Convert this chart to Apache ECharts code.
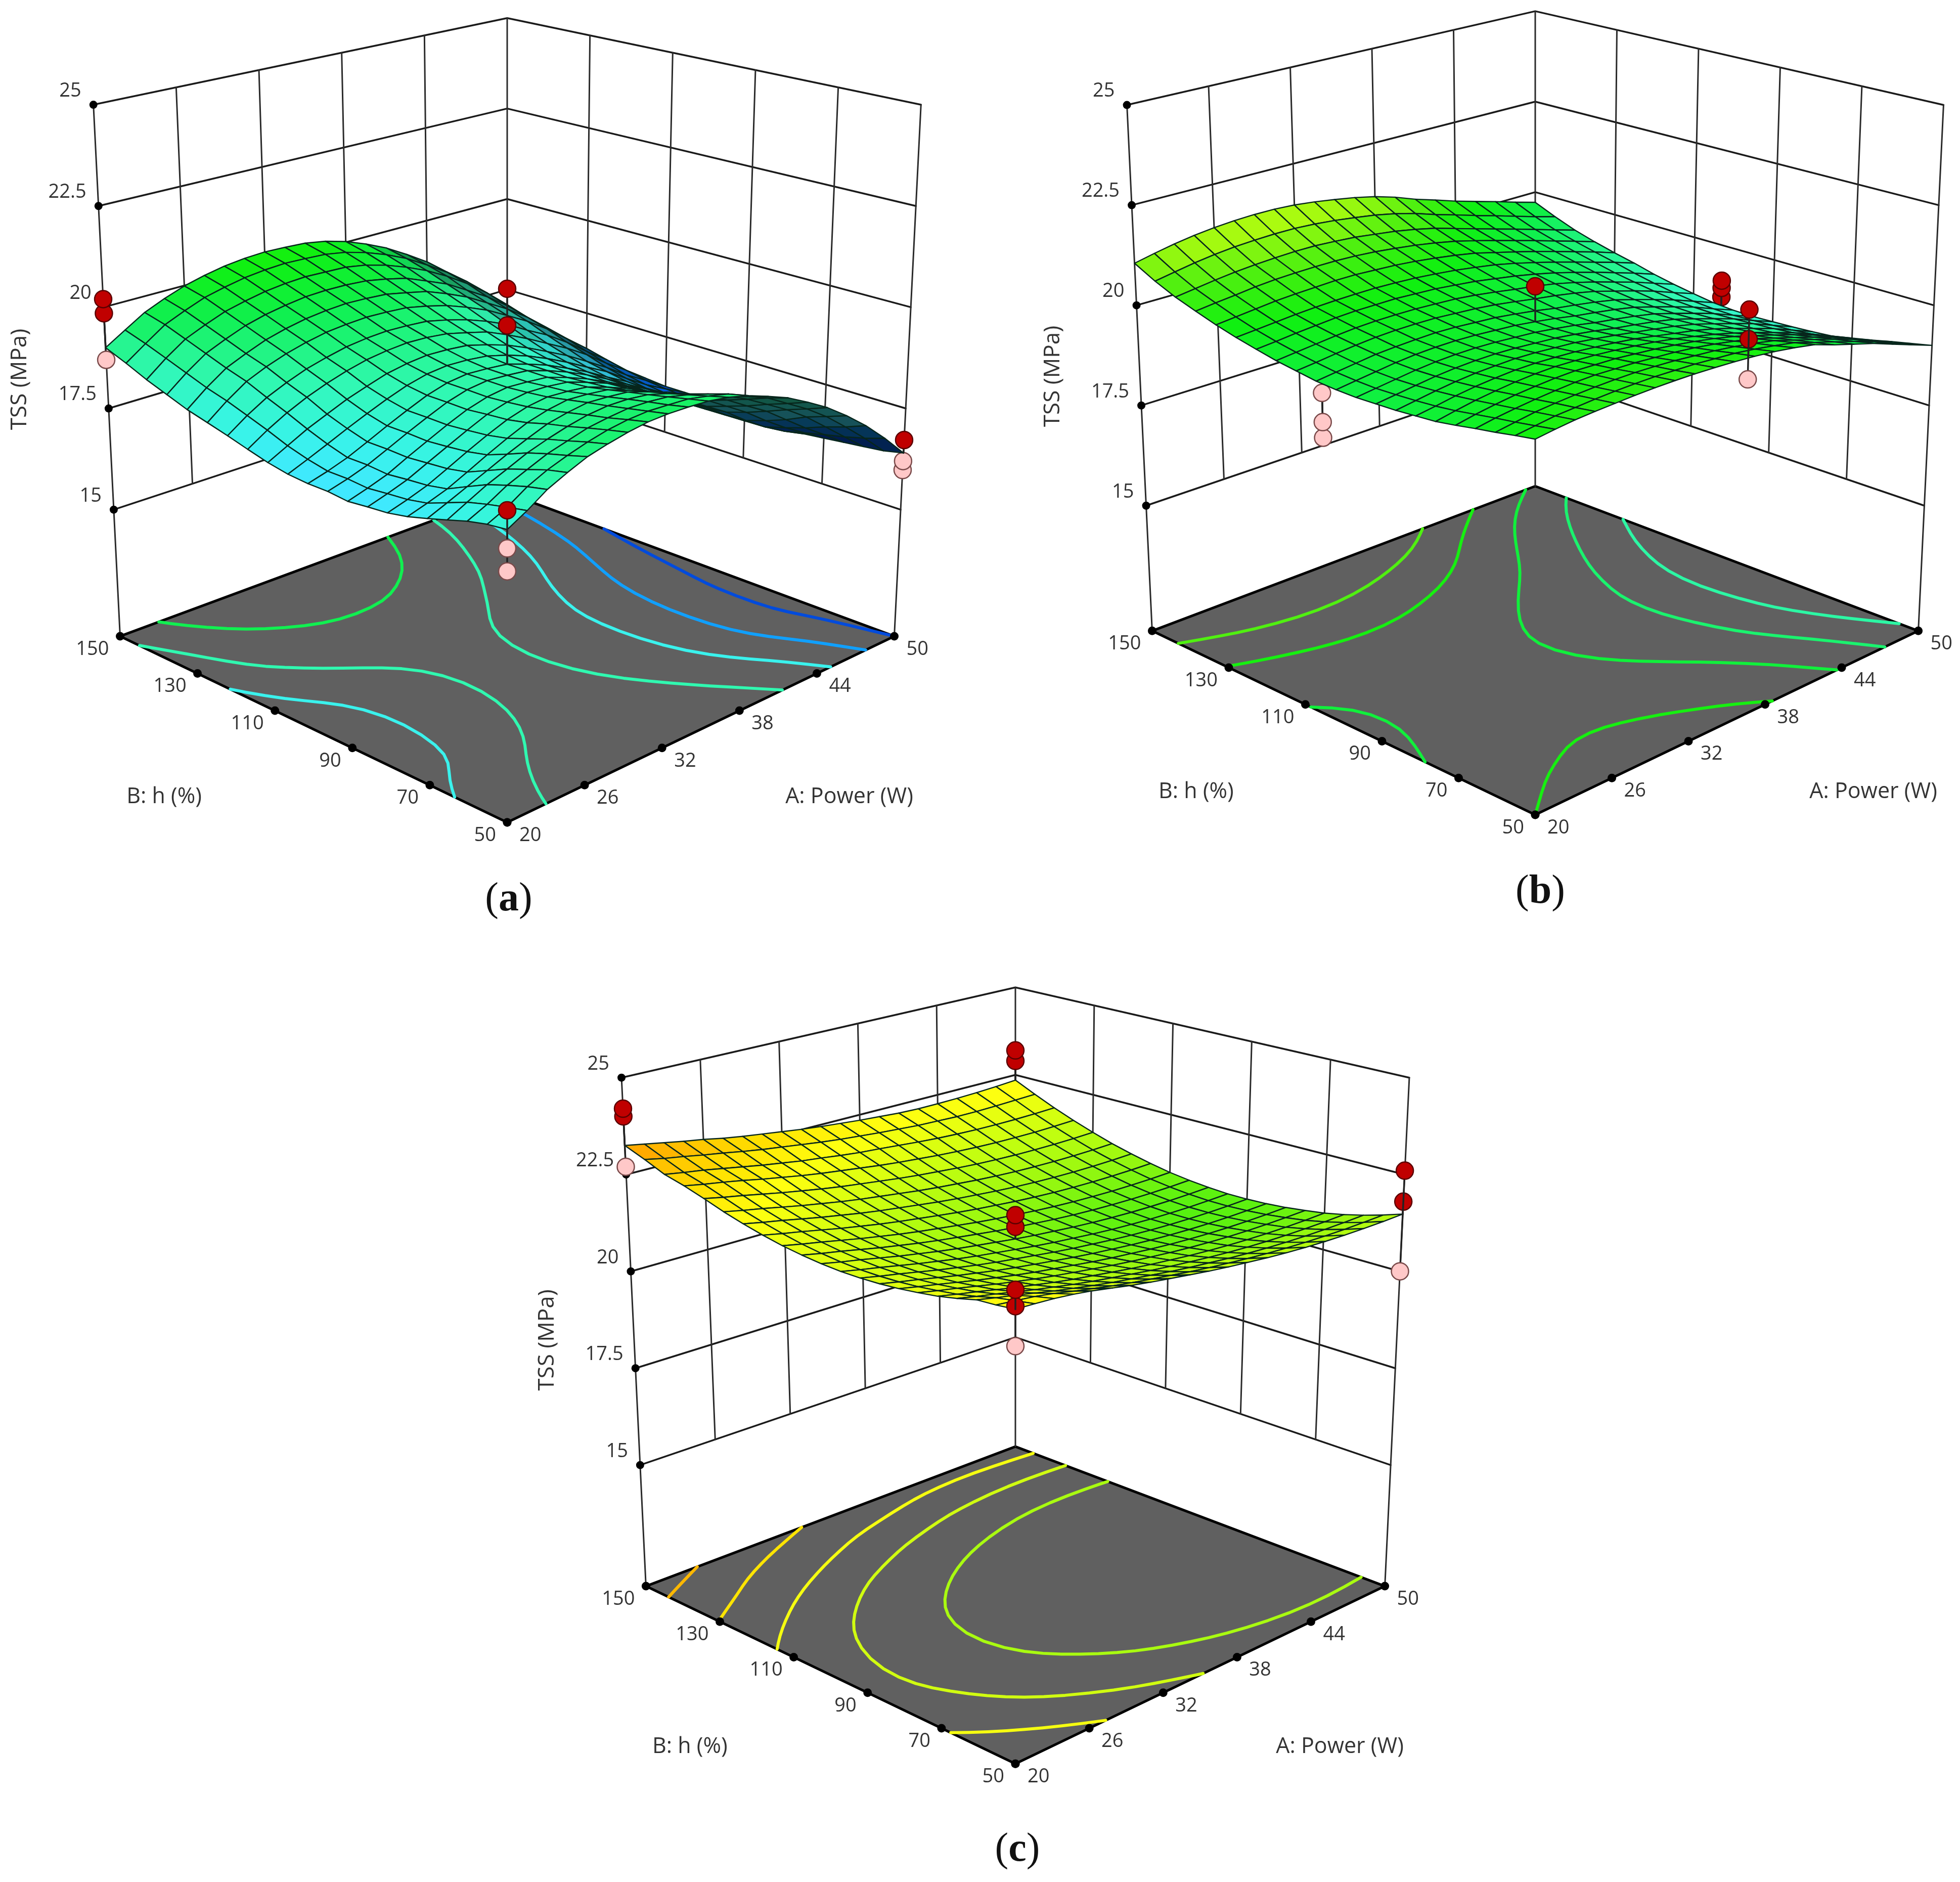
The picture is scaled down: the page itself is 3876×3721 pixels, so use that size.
<!DOCTYPE html>
<html>
<head>
<meta charset="utf-8">
<style>
	html, body { margin: 0; padding: 0; background: #fff; }
	#chart { width: 3876px; height: 3721px; }
</style>
<script src="https://cdn.jsdelivr.net/npm/echarts@6/dist/echarts.min.js"></script>
</head>
<body>
<div id="chart"></div>
<script>
var tickA = [20, 26, 32, 38, 44, 50];
var tickB = [50, 70, 90, 110, 130, 150];
var tickZ = [15, 17.5, 20, 22.5, 25];
var gridA = [20, 21.5, 23, 24.5, 26, 27.5, 29, 30.5, 32, 33.5, 35, 36.5, 38, 39.5, 41, 42.5, 44, 45.5, 47, 48.5, 50];
var gridB = [50, 55, 60, 65, 70, 75, 80, 85, 90, 95, 100, 105, 110, 115, 120, 125, 130, 135, 140, 145, 150];

// TSS, one row per gridB value, one column per gridA value
var surfaceA = [
	[18.25,18.50,18.80,19.01,19.20,19.32,19.42,19.49,19.51,19.50,19.47,19.39,19.26,19.07,18.86,18.58,18.27,17.89,17.46,16.96,16.40],
	[18.20,18.41,18.70,18.91,19.07,19.21,19.32,19.39,19.42,19.40,19.37,19.27,19.15,18.92,18.71,18.40,18.09,17.72,17.28,16.81,16.30],
	[18.10,18.31,18.57,18.76,18.95,19.08,19.21,19.28,19.33,19.32,19.27,19.15,19.00,18.78,18.53,18.23,17.92,17.56,17.13,16.69,16.25],
	[17.96,18.19,18.42,18.61,18.81,18.96,19.09,19.19,19.24,19.23,19.17,19.03,18.85,18.61,18.36,18.04,17.73,17.34,16.95,16.59,16.20],
	[17.82,18.01,18.21,18.41,18.62,18.81,18.99,19.09,19.16,19.13,19.08,18.92,18.74,18.47,18.20,17.88,17.55,17.16,16.80,16.48,16.15],
	[17.69,17.83,17.99,18.21,18.44,18.66,18.86,18.99,19.07,19.04,18.98,18.80,18.60,18.34,18.04,17.72,17.40,17.01,16.66,16.36,16.10],
	[17.60,17.74,17.90,18.12,18.35,18.57,18.77,18.91,18.98,18.95,18.89,18.72,18.52,18.27,18.00,17.67,17.36,16.99,16.65,16.36,16.10],
	[17.56,17.70,17.86,18.08,18.30,18.52,18.73,18.86,18.93,18.91,18.85,18.68,18.49,18.23,17.96,17.64,17.33,16.98,16.64,16.35,16.10],
	[17.51,17.65,17.81,18.04,18.26,18.48,18.68,18.82,18.89,18.86,18.81,18.64,18.44,18.20,17.93,17.62,17.32,16.96,16.63,16.35,16.10],
	[17.56,17.69,17.85,18.06,18.28,18.49,18.69,18.83,18.89,18.86,18.81,18.65,18.45,18.21,17.94,17.64,17.34,17.00,16.67,16.39,16.15],
	[17.56,17.69,17.85,18.06,18.28,18.49,18.69,18.83,18.89,18.86,18.81,18.65,18.46,18.22,17.96,17.66,17.37,17.02,16.71,16.44,16.20],
	[17.60,17.79,17.99,18.20,18.40,18.59,18.76,18.88,18.93,18.91,18.85,18.71,18.53,18.30,18.04,17.75,17.46,17.11,16.77,16.48,16.20],
	[17.69,17.93,18.17,18.37,18.57,18.73,18.88,18.97,19.02,19.00,18.95,18.81,18.64,18.41,18.15,17.88,17.56,17.23,16.86,16.54,16.20],
	[17.82,18.12,18.38,18.60,18.78,18.93,19.05,19.12,19.16,19.14,19.08,18.95,18.81,18.58,18.32,18.03,17.74,17.40,17.00,16.64,16.25],
	[17.96,18.29,18.57,18.78,18.96,19.09,19.20,19.26,19.29,19.27,19.23,19.11,18.96,18.76,18.52,18.21,17.92,17.56,17.15,16.76,16.30],
	[18.09,18.46,18.78,18.99,19.16,19.29,19.39,19.44,19.47,19.45,19.41,19.30,19.16,18.96,18.73,18.43,18.12,17.75,17.32,16.89,16.40],
	[18.22,18.60,18.93,19.14,19.33,19.46,19.56,19.62,19.65,19.63,19.59,19.48,19.36,19.15,18.91,18.60,18.28,17.90,17.45,16.99,16.45],
	[18.40,18.78,19.11,19.32,19.51,19.64,19.73,19.80,19.82,19.81,19.77,19.67,19.54,19.32,19.09,18.77,18.44,18.04,17.57,17.08,16.50],
	[18.58,18.96,19.29,19.50,19.69,19.81,19.91,19.97,20.00,19.98,19.96,19.87,19.72,19.52,19.28,18.98,18.63,18.22,17.74,17.20,16.60],
	[18.80,19.14,19.47,19.68,19.87,19.99,20.09,20.15,20.18,20.16,20.13,20.04,19.89,19.69,19.44,19.12,18.77,18.36,17.86,17.30,16.70],
	[19.00,19.30,19.60,19.81,19.99,20.12,20.22,20.28,20.31,20.29,20.26,20.17,20.02,19.81,19.56,19.24,18.89,18.46,17.96,17.40,16.80]
];
var surfaceB = [
	[20.25,20.31,20.36,20.39,20.41,20.43,20.44,20.44,20.43,20.41,20.38,20.34,20.28,20.20,20.10,19.92,19.76,19.60,19.40,19.20,19.00],
	[20.17,20.23,20.29,20.32,20.35,20.37,20.38,20.38,20.36,20.34,20.30,20.26,20.19,20.10,20.00,19.83,19.67,19.50,19.31,19.10,18.90],
	[20.08,20.15,20.22,20.26,20.29,20.31,20.32,20.32,20.30,20.27,20.22,20.17,20.10,20.01,19.90,19.74,19.58,19.41,19.22,19.01,18.80],
	[20.00,20.08,20.14,20.19,20.23,20.26,20.27,20.25,20.23,20.19,20.15,20.09,20.01,19.91,19.80,19.64,19.48,19.31,19.12,18.91,18.69],
	[19.91,20.00,20.07,20.13,20.17,20.20,20.21,20.19,20.17,20.12,20.07,20.00,19.92,19.82,19.70,19.55,19.39,19.22,19.03,18.82,18.59],
	[19.83,19.92,20.00,20.06,20.11,20.14,20.15,20.13,20.10,20.05,19.99,19.92,19.83,19.72,19.60,19.46,19.30,19.12,18.94,18.72,18.49],
	[19.79,19.86,19.94,20.00,20.04,20.07,20.07,20.05,20.02,19.97,19.91,19.84,19.74,19.64,19.54,19.41,19.25,19.07,18.89,18.67,18.45],
	[19.75,19.82,19.89,19.95,19.99,20.01,20.02,20.00,19.96,19.92,19.85,19.77,19.68,19.59,19.49,19.37,19.21,19.04,18.86,18.64,18.42],
	[19.73,19.79,19.85,19.91,19.95,19.97,19.97,19.95,19.91,19.87,19.80,19.72,19.62,19.54,19.45,19.34,19.18,19.01,18.83,18.61,18.40],
	[19.71,19.77,19.83,19.89,19.93,19.95,19.95,19.93,19.89,19.85,19.78,19.70,19.60,19.52,19.43,19.32,19.16,18.99,18.81,18.59,18.38],
	[19.72,19.78,19.84,19.90,19.94,19.96,19.96,19.94,19.90,19.86,19.79,19.71,19.61,19.53,19.44,19.33,19.17,19.00,18.82,18.60,18.39],
	[19.75,19.81,19.87,19.93,19.96,19.98,19.99,19.97,19.93,19.89,19.82,19.74,19.64,19.56,19.47,19.36,19.20,19.03,18.85,18.64,18.43],
	[19.82,19.87,19.93,19.98,20.02,20.04,20.04,20.03,19.99,19.95,19.89,19.81,19.72,19.64,19.54,19.42,19.26,19.10,18.92,18.71,18.51],
	[19.89,19.94,19.99,20.04,20.08,20.10,20.10,20.09,20.06,20.03,19.97,19.89,19.80,19.72,19.62,19.49,19.34,19.17,19.00,18.80,18.60],
	[19.99,20.03,20.08,20.12,20.16,20.18,20.18,20.18,20.15,20.12,20.06,20.00,19.91,19.82,19.71,19.58,19.43,19.27,19.09,18.91,18.71],
	[20.10,20.14,20.18,20.22,20.25,20.27,20.28,20.28,20.26,20.23,20.18,20.12,20.04,19.95,19.83,19.69,19.54,19.38,19.21,19.04,18.85],
	[20.23,20.28,20.33,20.38,20.41,20.43,20.45,20.45,20.42,20.39,20.34,20.27,20.19,20.09,19.95,19.81,19.66,19.50,19.33,19.16,18.97],
	[20.39,20.45,20.50,20.56,20.60,20.62,20.63,20.63,20.61,20.57,20.51,20.44,20.35,20.24,20.10,19.95,19.79,19.63,19.46,19.29,19.11],
	[20.56,20.63,20.70,20.76,20.80,20.83,20.85,20.85,20.82,20.78,20.71,20.64,20.54,20.42,20.26,20.10,19.94,19.78,19.61,19.44,19.27],
	[20.78,20.87,20.96,21.03,21.08,21.11,21.13,21.13,21.10,21.05,20.98,20.90,20.79,20.65,20.47,20.31,20.14,19.98,19.81,19.64,19.48],
	[21.05,21.16,21.26,21.34,21.40,21.44,21.46,21.46,21.43,21.37,21.29,21.20,21.08,20.92,20.72,20.55,20.37,20.21,20.05,19.88,19.72]
];
var surfaceC = [
	[22.35,22.33,22.30,22.25,22.18,22.09,22.00,21.92,21.85,21.78,21.71,21.65,21.60,21.55,21.51,21.48,21.46,21.45,21.45,21.46,21.48],
	[22.30,22.25,22.20,22.12,22.02,21.93,21.84,21.76,21.69,21.62,21.55,21.49,21.44,21.39,21.35,21.32,21.30,21.29,21.29,21.30,21.32],
	[22.27,22.17,22.08,21.98,21.88,21.79,21.70,21.62,21.55,21.48,21.41,21.35,21.30,21.25,21.21,21.18,21.16,21.15,21.15,21.16,21.18],
	[22.15,22.05,21.96,21.86,21.76,21.67,21.58,21.50,21.43,21.36,21.29,21.23,21.18,21.13,21.09,21.06,21.04,21.03,21.03,21.04,21.06],
	[22.05,21.95,21.86,21.76,21.66,21.57,21.48,21.40,21.33,21.26,21.19,21.13,21.08,21.03,20.99,20.96,20.94,20.93,20.93,20.94,20.96],
	[21.98,21.88,21.79,21.69,21.59,21.50,21.41,21.33,21.26,21.19,21.12,21.06,21.01,20.96,20.92,20.89,20.87,20.86,20.86,20.87,20.89],
	[21.92,21.82,21.73,21.63,21.53,21.44,21.35,21.27,21.20,21.13,21.06,21.00,20.95,20.90,20.86,20.83,20.81,20.80,20.80,20.81,20.83],
	[21.88,21.78,21.69,21.59,21.49,21.40,21.31,21.23,21.16,21.09,21.02,20.96,20.91,20.86,20.82,20.79,20.77,20.76,20.76,20.77,20.79],
	[21.86,21.76,21.67,21.57,21.47,21.38,21.29,21.21,21.14,21.07,21.00,20.94,20.89,20.84,20.80,20.77,20.75,20.74,20.74,20.75,20.77],
	[21.86,21.76,21.67,21.57,21.47,21.38,21.29,21.21,21.14,21.07,21.00,20.94,20.89,20.84,20.80,20.77,20.75,20.74,20.74,20.75,20.77],
	[21.89,21.79,21.70,21.60,21.50,21.41,21.32,21.24,21.17,21.10,21.03,20.97,20.92,20.87,20.83,20.80,20.78,20.77,20.77,20.78,20.80],
	[21.94,21.84,21.75,21.65,21.55,21.46,21.37,21.29,21.22,21.15,21.08,21.02,20.97,20.92,20.88,20.85,20.83,20.82,20.82,20.83,20.85],
	[22.01,21.91,21.82,21.72,21.62,21.53,21.44,21.36,21.29,21.22,21.15,21.09,21.04,20.99,20.95,20.92,20.90,20.89,20.89,20.90,20.92],
	[22.11,22.01,21.92,21.82,21.72,21.63,21.54,21.46,21.39,21.32,21.25,21.19,21.14,21.09,21.05,21.02,21.00,20.99,20.99,21.00,21.02],
	[22.23,22.13,22.04,21.94,21.84,21.75,21.66,21.58,21.51,21.44,21.37,21.31,21.26,21.21,21.17,21.14,21.12,21.11,21.11,21.12,21.14],
	[22.37,22.27,22.18,22.08,21.98,21.89,21.80,21.72,21.65,21.58,21.51,21.45,21.40,21.35,21.31,21.28,21.26,21.25,21.25,21.26,21.28],
	[22.54,22.44,22.35,22.25,22.15,22.06,21.97,21.89,21.82,21.75,21.68,21.62,21.57,21.52,21.48,21.45,21.43,21.42,21.42,21.43,21.45],
	[22.70,22.61,22.53,22.44,22.34,22.25,22.16,22.08,22.01,21.94,21.87,21.81,21.76,21.71,21.67,21.64,21.62,21.61,21.61,21.62,21.64],
	[22.83,22.75,22.68,22.59,22.50,22.41,22.33,22.25,22.19,22.12,22.06,22.02,21.97,21.92,21.88,21.85,21.83,21.82,21.82,21.83,21.85],
	[23.05,22.95,22.87,22.78,22.70,22.61,22.53,22.46,22.39,22.32,22.26,22.21,22.16,22.12,22.08,22.06,22.04,22.04,22.05,22.07,22.09],
	[23.25,23.16,23.07,22.98,22.90,22.80,22.72,22.65,22.58,22.51,22.45,22.40,22.35,22.31,22.27,22.25,22.25,22.26,22.28,22.31,22.35]
];

// design points: A, B, TSS
var pointsA = [[20,150,20.2],[20,150,19.85],[20,150,18.7],[35,100,20.66],[35,100,19.76],[20,50,18.67],[20,50,17.84],[20,50,17.34],[50,50,16.72],[50,50,16.2],[50,50,15.98]];
var pointsB = [[35,100,20.67],[50,103,19.07],[50,103,18.88],[50,103,18.64],[36,50,21.5],[36,50,20.8],[36,50,19.85],[20,103.6,19.52],[20,103.6,18.83],[20,103.6,18.46]];
var pointsC = [[20,150,24.2],[20,150,24.0],[20,150,22.7],[50,150,23.2],[50,150,22.9],[35,100,21.64],[35,100,21.34],[20,50,22.8],[20,50,22.42],[20,50,21.5],[50,50,22.6],[50,50,21.8],[50,50,20.0]];

var levelsA = [16.4, 17.2, 18.0, 18.8, 19.6];
var levelsB = [18.9, 19.35, 19.8, 20.25, 20.7];
var levelsC = [21.28, 21.7, 22.1, 22.55, 23.0];

var colorZ = [15.8, 16.3, 17.2, 17.6, 18.1, 18.8, 19.6, 20.2, 20.7, 21.1, 21.6, 22.2, 22.6, 23, 23.3];
var colorHex = ['#000090', '#0040d8', '#10a0ff', '#40e8ff', '#38f4e8', '#30f8b0', '#10f050', '#10f010', '#50f010', '#98f810', '#c8ff10', '#ffff10', '#ffe000', '#ffb800', '#ff9000'];

var FLOOR_Z = 11.875;
var TOP_Z = 25;
var FONT = '"Open Sans", "Noto Sans", sans-serif';
var TEXT_COLOR = '#333';

var panels = [
	{ name: 'a', cx: 1003, cy: 750, scale: 791, D: 6.99, q: 0.3313, H: 0.7032, surface: surfaceA, points: pointsA, levels: levelsA, caption: [1001, 1780] },
	{ name: 'b', cx: 3036, cy: 744, scale: 781.7, D: 7.623, q: 0.3434, H: 0.7074, surface: surfaceB, points: pointsB, levels: levelsB, caption: [3041, 1765] },
	{ name: 'c', cx: 2008, cy: 2649.5, scale: 754, D: 7.6, q: 0.3433, H: 0.7091, surface: surfaceC, points: pointsC, levels: levelsC, caption: [2007, 3659] }
];

// plot axes range in view units, the grid rect is sized from it and must stay on the canvas
var VIEW_RANGE = 0.9;

function colorAt(z) {
	if (z <= colorZ[0]) return colorHex[0];
	for (var i = 1; i < colorZ.length; i++) {
		if (z <= colorZ[i]) {
			var f = (z - colorZ[i - 1]) / (colorZ[i] - colorZ[i - 1]);
			return echarts.color.lerp(f, [colorHex[i - 1], colorHex[i]]);
		}
	}
	return colorHex[colorHex.length - 1];
}

// camera view of one box corner, a and b are -1 or 1, f is 0 at the floor and 1 at the top
function cornerView(p, a, b, f) {
	var u = (a - b) / 2;
	var v = (-a - b) / 2;
	var c = Math.sqrt(1 - p.q * p.q);
	var Z = p.H * (2 * f - 1);
	var t = Z * p.q + v * c;
	var up = Z * c - v * p.q;
	var k = p.D / (p.D - t);
	return [u * k, up * k];
}

// the plot spaces its ticks evenly along the edges, so blend between the box corners
function project(p, A, B, z) {
	var fa = (A - 20) / 30;
	var fb = (B - 50) / 100;
	var fz = (z - FLOOR_Z) / (TOP_Z - FLOOR_Z);
	var x = 0, y = 0;
	[[-1, -1, (1 - fa) * (1 - fb)], [1, -1, fa * (1 - fb)], [1, 1, fa * fb], [-1, 1, (1 - fa) * fb]].forEach(function(w) {
		var lo = cornerView(p, w[0], w[1], 0);
		var hi = cornerView(p, w[0], w[1], 1);
		x += w[2] * (lo[0] + fz * (hi[0] - lo[0]));
		y += w[2] * (lo[1] + fz * (hi[1] - lo[1]));
	});
	var c = Math.sqrt(1 - p.q * p.q);
	var a = 2 * fa - 1;
	var b = 2 * fb - 1;
	var depth = p.H * (2 * fz - 1) * p.q + (-a - b) / 2 * c;
	return [x, y, depth];
}

function contourSegments(p, level) {
	var segs = [];
	function cross(k1, j1, k2, j2) {
		var z1 = p.surface[j1][k1];
		var z2 = p.surface[j2][k2];
		if ((z1 < level) === (z2 < level)) return null;
		var f = (level - z1) / (z2 - z1);
		return [gridA[k1] + f * (gridA[k2] - gridA[k1]), gridB[j1] + f * (gridB[j2] - gridB[j1])];
	}
	for (var j = 0; j < gridB.length - 1; j++) {
		for (var k = 0; k < gridA.length - 1; k++) {
			var hits = [cross(k, j, k + 1, j), cross(k + 1, j, k + 1, j + 1), cross(k + 1, j + 1, k, j + 1), cross(k, j + 1, k, j)].filter(Boolean);
			for (var h = 0; h + 1 < hits.length; h += 2) {
				segs.push([hits[h], hits[h + 1]]);
			}
		}
	}
	return segs;
}

function sameNode(m, n) {
	return Math.abs(m[0] - n[0]) < 1e-6 && Math.abs(m[1] - n[1]) < 1e-6;
}

// join the cell segments of one level into running lines
function chainSegments(segs) {
	var lines = [];
	var left = segs.slice();
	while (left.length) {
		var line = left.pop().slice();
		var grown = true;
		while (grown) {
			grown = false;
			for (var i = 0; i < left.length; i++) {
				var s = left[i];
				if (sameNode(line[line.length - 1], s[0])) line.push(s[1]);
				else if (sameNode(line[line.length - 1], s[1])) line.push(s[0]);
				else if (sameNode(line[0], s[0])) line.unshift(s[1]);
				else if (sameNode(line[0], s[1])) line.unshift(s[0]);
				else continue;
				left.splice(i, 1);
				grown = true;
				break;
			}
		}
		lines.push(line);
	}
	return lines;
}

// the cells are coarse, take the corners out of the drawn line
function easeLine(line) {
	var cur = line;
	for (var pass = 0; pass < 3; pass++) {
		cur = cur.map(function(q, i) {
			if (i === 0 || i === cur.length - 1) return q;
			return [(cur[i - 1][0] + 2 * q[0] + cur[i + 1][0]) / 4, (cur[i - 1][1] + 2 * q[1] + cur[i + 1][1]) / 4];
		});
	}
	return cur;
}

function framePieces(p) {
	var out = [];
	// floor
	out.push({
		kind: 'polygon',
		pts: [project(p, 20, 50, FLOOR_Z), project(p, 50, 50, FLOOR_Z), project(p, 50, 150, FLOOR_Z), project(p, 20, 150, FLOOR_Z)],
		fill: '#606060',
		stroke: '#000',
		width: 5
	});
	p.levels.forEach(function(level) {
		var color = colorAt(level);
		chainSegments(contourSegments(p, level)).forEach(function(line) {
			out.push({
				kind: 'line',
				pts: easeLine(line).map(function(q) {
					return project(p, q[0], q[1], FLOOR_Z);
				}),
				stroke: color,
				width: 6
			});
		});
	});
	// walls
	tickZ.forEach(function(z) {
		out.push({ kind: 'line', pts: [project(p, 20, 150, z), project(p, 50, 150, z), project(p, 50, 50, z)], stroke: '#1a1a1a', width: 3.5 });
	});
	tickA.slice(1, -1).forEach(function(A) {
		out.push({ kind: 'line', pts: [project(p, A, 150, 15), project(p, A, 150, TOP_Z)], stroke: '#2a2a2a', width: 3 });
	});
	tickB.slice(1, -1).forEach(function(B) {
		out.push({ kind: 'line', pts: [project(p, 50, B, 15), project(p, 50, B, TOP_Z)], stroke: '#2a2a2a', width: 3 });
	});
	[[20, 150], [50, 150], [50, 50]].forEach(function(c) {
		out.push({ kind: 'line', pts: [project(p, c[0], c[1], FLOOR_Z), project(p, c[0], c[1], TOP_Z)], stroke: '#2a2a2a', width: 3 });
	});
	// ticks and their labels
	tickZ.forEach(function(z) {
		var pos = project(p, 20, 150, z);
		out.push({ kind: 'dot', pts: [pos], r: 8, fill: '#000' });
		out.push({ kind: 'text', pts: [pos], text: String(z), dx: -24, dy: -27, align: 'right', size: 38 });
	});
	tickB.forEach(function(B) {
		var pos = project(p, 20, B, FLOOR_Z);
		out.push({ kind: 'dot', pts: [pos], r: 8.5, fill: '#000' });
		out.push({ kind: 'text', pts: [pos], text: String(B), dx: -22, dy: 26, align: 'right', size: 38 });
	});
	tickA.forEach(function(A) {
		var pos = project(p, A, 50, FLOOR_Z);
		out.push({ kind: 'dot', pts: [pos], r: 8.5, fill: '#000' });
		out.push({ kind: 'text', pts: [pos], text: String(A), dx: 24, dy: 26, align: 'left', size: 38 });
	});
	// axis names
	var left = project(p, 20, 150, FLOOR_Z);
	var right = project(p, 50, 50, FLOOR_Z);
	out.push({ kind: 'text', pts: [left], text: 'B: h (%)', dx: 87, dy: 318, align: 'center', size: 43 });
	out.push({ kind: 'text', pts: [right], text: 'A: Power (W)', dx: -89, dy: 318, align: 'center', size: 43 });
	var mid = project(p, 20, 150, 20);
	out.push({ kind: 'text', pts: [[mid[0], 0, 0]], text: 'TSS (MPa)', dx: -165, dy: 0, align: 'center', rotate: Math.PI / 2, size: 44 });
	return out;
}

function nearestIndex(list, value) {
	var best = 0;
	list.forEach(function(x, i) {
		if (Math.abs(x - value) < Math.abs(list[best] - value)) best = i;
	});
	return best;
}

function solidPieces(p) {
	var out = [];
	var s = p.surface;
	for (var j = 0; j < gridB.length - 1; j++) {
		for (var k = 0; k < gridA.length - 1; k++) {
			var c = [
				project(p, gridA[k], gridB[j], s[j][k]),
				project(p, gridA[k + 1], gridB[j], s[j][k + 1]),
				project(p, gridA[k + 1], gridB[j + 1], s[j + 1][k + 1]),
				project(p, gridA[k], gridB[j + 1], s[j + 1][k])
			];
			var area = 0;
			for (var e = 0; e < 4; e++) {
				var m = c[e], n = c[(e + 1) % 4];
				area += m[0] * n[1] - n[0] * m[1];
			}
			// where the sheet falls away along A faster than the floor climbs it reads darker
			var floorStep = project(p, gridA[k + 1], gridB[j], FLOOR_Z)[1] - project(p, gridA[k], gridB[j], FLOOR_Z)[1];
			var fall = (c[1][1] - c[0][1]) / floorStep;
			var dark = Math.max(0, Math.min(1, -0.3 - fall)) * 0.65;
			if (area < 0) dark = 0.65;
			var fill = colorAt((s[j][k] + s[j][k + 1] + s[j + 1][k + 1] + s[j + 1][k]) / 4);
			out.push({
				kind: 'polygon',
				pts: c,
				fill: dark > 0 ? echarts.color.lerp(dark, [fill, '#000000']) : fill,
				stroke: '#07261c',
				width: 2.4,
				depth: (c[0][2] + c[1][2] + c[2][2] + c[3][2]) / 4
			});
		}
	}
	p.points.forEach(function(pt) {
		var onSurface = s[nearestIndex(gridB, pt[1])][nearestIndex(gridA, pt[0])];
		var above = pt[2] >= onSurface;
		var pos = project(p, pt[0], pt[1], pt[2]);
		var foot = project(p, pt[0], pt[1], onSurface);
		var depth = above ? pos[2] : pos[2] - 0.15;
		out.push({ kind: 'line', pts: [pos, foot], stroke: '#222', width: 3.5, depth: above ? (pos[2] + foot[2]) / 2 : depth });
		out.push({
			kind: 'dot',
			pts: [pos],
			r: 17,
			fill: above ? '#c00000' : '#ffc8c8',
			stroke: above ? '#5a0000' : '#7a4a4a',
			width: 2.5,
			depth: depth
		});
	});
	out.sort(function(m, n) {
		return m.depth - n.depth;
	});
	return out;
}

function renderPiece(items, api) {
	var it = items[api.value(0)];
	var pts = it.pts.map(function(q) {
		return api.coord([q[0], q[1]]);
	});
	if (it.kind === 'polygon') {
		return { type: 'polygon', shape: { points: pts }, style: { fill: it.fill, stroke: it.stroke, lineWidth: it.width, lineJoin: 'round' } };
	}
	if (it.kind === 'line') {
		return { type: 'polyline', shape: { points: pts }, style: { fill: 'none', stroke: it.stroke, lineWidth: it.width, lineCap: 'round', lineJoin: 'round' } };
	}
	if (it.kind === 'dot') {
		return { type: 'circle', shape: { cx: pts[0][0], cy: pts[0][1], r: it.r }, style: { fill: it.fill, stroke: it.stroke || null, lineWidth: it.width || 0 } };
	}
	return {
		type: 'text',
		x: pts[0][0] + it.dx,
		y: pts[0][1] + it.dy,
		rotation: it.rotate || 0,
		style: { x: 0, y: 0, text: it.text, fill: TEXT_COLOR, fontSize: it.size, fontFamily: FONT, align: it.align, verticalAlign: 'middle' }
	};
}

var grids = [], xAxes = [], yAxes = [], series = [], titles = [];
panels.forEach(function(p, n) {
	var half = VIEW_RANGE * p.scale;
	grids.push({ left: p.cx - half, top: p.cy - half, width: 2 * half, height: 2 * half, show: false });
	xAxes.push({ type: 'value', gridIndex: n, min: -VIEW_RANGE, max: VIEW_RANGE, show: false });
	yAxes.push({ type: 'value', gridIndex: n, min: -VIEW_RANGE, max: VIEW_RANGE, show: false });
	[framePieces(p), solidPieces(p)].forEach(function(items, layer) {
		series.push({
			type: 'custom',
			xAxisIndex: n,
			yAxisIndex: n,
			coordinateSystem: 'cartesian2d',
			clip: false,
			silent: true,
			animation: false,
			progressive: 0,
			z: 2 + layer,
			data: items.map(function(_, i) {
				return [i];
			}),
			renderItem: function(params, api) {
				return renderPiece(items, api);
			}
		});
	});
	titles.push({
		text: '({b|' + p.name + '})',
		left: p.caption[0],
		top: p.caption[1] - 46,
		textAlign: 'center',
		textStyle: {
			fontFamily: '"Liberation Serif", serif',
			fontWeight: 'normal',
			fontSize: 80,
			color: '#111',
			rich: { b: { fontFamily: '"Liberation Serif", serif', fontWeight: 'bold', fontSize: 80, color: '#111' } }
		}
	});
});

var chart = echarts.init(document.getElementById('chart'), null, { renderer: 'canvas' });
chart.setOption({
	backgroundColor: '#fff',
	animation: false,
	title: titles,
	grid: grids,
	xAxis: xAxes,
	yAxis: yAxes,
	series: series
});
</script>
</body>
</html>
